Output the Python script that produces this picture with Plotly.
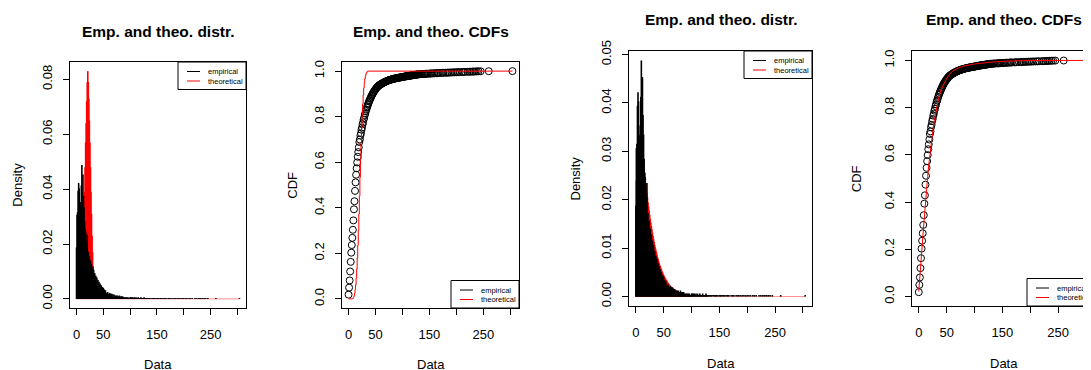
import numpy as np
import plotly.graph_objects as go

W, H = 1091, 370
OFF = 8  # the page body margin shifts the figure by this many pixels
FONT = "Liberation Sans, Arial, Helvetica, sans-serif"

# ---------------- data ----------------
# empirical frequency table: counts for the integer values 0..130
emp_counts = [60, 98, 101, 126, 135, 129, 107, 101, 113, 132,
              156, 113, 145, 120, 107, 91, 82, 79, 66, 66,
              75, 36, 55, 32, 50, 30, 45, 28, 41, 24,
              37, 22, 34, 20, 30, 18, 27, 16, 25, 14,
              22, 13, 20, 12, 18, 11, 16, 10, 14, 9,
              13, 8, 11, 8, 10, 7, 7, 3, 8, 3,
              6, 3, 7, 3, 6, 2, 6, 2, 5, 2,
              5, 2, 4, 2, 4, 2, 4, 1, 3, 1,
              4, 1, 3, 1, 3, 1, 3, 1, 2, 1,
              2, 1, 2, 1, 2, 1, 2, 1, 1, 1,
              2, 2, 1, 2, 1, 2, 1, 1, 2, 1,
              1, 2, 1, 1, 1, 2, 1, 1, 1, 1,
              2, 1, 1, 1, 1, 1, 2, 1, 1, 1, 1]
# sparse tail of the sample (single observations)
tail_values = [132, 134, 135, 137, 140, 142, 143, 145, 147, 150, 152, 153, 156,
               158, 160, 163, 165, 167, 171, 174, 176, 180, 183, 185, 188, 191,
               194, 197, 200, 203, 206, 210, 213, 216, 221, 224, 227, 230, 232,
               235, 238, 241, 245, 260, 304]
tail_counts = [1, 1, 1, 1, 1, 1, 1, 1, 1, 1, 1, 1, 1,
               1, 1, 1, 1, 1, 1, 1, 1, 1, 1, 1, 1, 1,
               1, 1, 1, 1, 1, 1, 1, 1, 1, 1, 1, 1, 1,
               1, 1, 1, 1, 1, 1]

# fit 1 (left pair): theoretical probabilities for the values 7..36
pois_x = list(range(7, 37))
pois_p = [0.001, 0.002, 0.004, 0.007, 0.011, 0.015, 0.022, 0.030, 0.039, 0.048,
          0.057, 0.064, 0.072, 0.079, 0.083, 0.079, 0.073, 0.065, 0.057, 0.048,
          0.039, 0.031, 0.023, 0.017, 0.012, 0.009, 0.006, 0.004, 0.002, 0.001]

# fit 2 (right pair): theoretical probabilities for the values 0..100
nb_p = [0.0180, 0.0240, 0.0280, 0.0305, 0.0318, 0.0325, 0.0310, 0.0305, 0.0310, 0.0310,
        0.0305, 0.0300, 0.0293, 0.0285, 0.0275, 0.0265, 0.0255, 0.0244, 0.0234, 0.0224,
        0.0214, 0.0205, 0.0195, 0.0186, 0.0178, 0.0169, 0.0161, 0.0153, 0.0146, 0.0139,
        0.0132, 0.0125, 0.0119, 0.0113, 0.0107, 0.0102, 0.0097, 0.0092, 0.0087, 0.0082,
        0.0078, 0.0074, 0.0070, 0.0066, 0.0063, 0.0059, 0.0056, 0.0053, 0.0050, 0.0047,
        0.0045, 0.0042, 0.0040, 0.0038, 0.0036, 0.0034, 0.0032, 0.0030, 0.0028, 0.0027,
        0.0025, 0.0024, 0.0022, 0.0021, 0.0020, 0.0019, 0.0018, 0.0017, 0.0016, 0.0015,
        0.0014, 0.0013, 0.0013, 0.0012, 0.0011, 0.0011, 0.0010, 0.0009, 0.0009, 0.0008,
        0.0008, 0.0007, 0.0007, 0.0007, 0.0006, 0.0006, 0.0005, 0.0005, 0.0005, 0.0004,
        0.0004, 0.0004, 0.0004, 0.0003, 0.0003, 0.0003, 0.0003, 0.0003, 0.0002, 0.0002,
        0.0002]
# fit 2 theoretical CDF
nb_cdf_x = [0, 1, 2, 3, 4, 5, 6, 7, 8, 9, 10, 12, 14, 16, 18, 20, 22, 25, 28, 31,
            35, 40, 45, 50, 55, 60, 70, 80, 100, 130, 160, 200, 304]
nb_cdf_y = [0.021, 0.048, 0.078, 0.110, 0.144, 0.177, 0.211, 0.244, 0.277, 0.310,
            0.341, 0.401, 0.457, 0.509, 0.558, 0.604, 0.645, 0.699, 0.746, 0.788,
            0.834, 0.878, 0.903, 0.923, 0.940, 0.954, 0.967, 0.976, 0.985, 0.993,
            0.997, 1.0, 1.0]

titles = ["Emp. and theo. distr.", "Emp. and theo. CDFs",
          "Emp. and theo. distr.", "Emp. and theo. CDFs"]
ylabels = ["Density", "CDF", "Density", "CDF"]
xlabel = "Data"
legend_labels = ["empirical", "theoretical"]
x_ticks = [0, 50, 100, 150, 200, 250, 300]
x_ticktext = ["0", "50", "", "150", "", "250", ""]
dens1_ticks = [0.00, 0.02, 0.04, 0.06, 0.08]
dens1_text = ["0.00", "0.02", "0.04", "0.06", "0.08"]
dens2_ticks = [0.00, 0.01, 0.02, 0.03, 0.04, 0.05]
dens2_text = ["0.00", "0.01", "0.02", "0.03", "0.04", "0.05"]
cdf_ticks = [0.0, 0.2, 0.4, 0.6, 0.8, 1.0]
cdf_text = ["0.0", "0.2", "0.4", "0.6", "0.8", "1.0"]

# ---------------- derived ----------------
emp_x = np.concatenate([np.arange(len(emp_counts)), np.array(tail_values)])
emp_n = np.concatenate([np.array(emp_counts), np.array(tail_counts)])
N = emp_n.sum()
emp_dens = emp_n / N
emp_cdf = np.cumsum(emp_n) / N
xmin, xmax = 0, int(emp_x.max())

pois_cdf_x = [xmin] + pois_x + [xmax]
pois_cdf_y = [0.0] + list(np.cumsum(pois_p)) + [1.0]
nb_x = list(range(len(nb_p)))


def stems(xs, ys):
    X, Y = [], []
    for a, b in zip(xs, ys):
        X += [a, a, None]
        Y += [0, b, None]
    return X, Y


# panel boxes in page pixels (left, top, right, bottom)
boxes = [(70, 62, 246, 308), (342, 62, 519, 308), (629, 51, 812, 306), (912, 51, 1095, 306)]


def xp(px):
    return (px - OFF) / W


def yp(py):
    return 1 - (py - OFF) / H


STEM_W = 1.6
fig = go.Figure()

# panel 1
sx, sy = stems(pois_x, pois_p)
fig.add_trace(go.Scatter(x=[xmin, xmax], y=[0, 0], mode="lines",
                         line=dict(color="rgba(255,0,0,0.45)", width=1), xaxis="x", yaxis="y"))
fig.add_trace(go.Scatter(x=sx, y=sy, mode="lines", line=dict(color="red", width=STEM_W),
                         xaxis="x", yaxis="y"))
sx, sy = stems(emp_x, emp_dens)
fig.add_trace(go.Scatter(x=sx, y=sy, mode="lines", line=dict(color="black", width=STEM_W),
                         xaxis="x", yaxis="y"))

# panel 2
fig.add_trace(go.Scatter(x=emp_x, y=emp_cdf, mode="markers",
                         marker=dict(symbol="circle-open", size=7, color="black",
                                     line=dict(width=1, color="black")),
                         xaxis="x2", yaxis="y2"))
fig.add_trace(go.Scatter(x=pois_cdf_x, y=pois_cdf_y, mode="lines", line_shape="hv",
                         line=dict(color="red", width=1), xaxis="x2", yaxis="y2"))

# panel 3
fig.add_trace(go.Scatter(x=[xmin, xmax], y=[0, 0], mode="lines",
                         line=dict(color="rgba(255,0,0,0.45)", width=1), xaxis="x3", yaxis="y3"))
sx, sy = stems(nb_x, nb_p)
fig.add_trace(go.Scatter(x=sx, y=sy, mode="lines", line=dict(color="red", width=STEM_W),
                         xaxis="x3", yaxis="y3"))
sx, sy = stems(emp_x, emp_dens)
fig.add_trace(go.Scatter(x=sx, y=sy, mode="lines", line=dict(color="black", width=STEM_W),
                         xaxis="x3", yaxis="y3"))

# panel 4
fig.add_trace(go.Scatter(x=emp_x, y=emp_cdf, mode="markers",
                         marker=dict(symbol="circle-open", size=7, color="black",
                                     line=dict(width=1, color="black")),
                         xaxis="x4", yaxis="y4"))
fig.add_trace(go.Scatter(x=nb_cdf_x, y=nb_cdf_y, mode="lines",
                         line=dict(color="red", width=1), xaxis="x4", yaxis="y4"))

span = xmax - xmin
xr_full = [xmin - 0.04 * span, xmax + 0.04 * span]
M1 = max(emp_dens.max(), max(pois_p))
M3 = max(emp_dens.max(), max(nb_p))
yranges = [[-0.04 * M1, 1.04 * M1], [-0.04, 1.04], [-0.04 * M3, 1.04 * M3], [-0.04, 1.04]]
yticks = [(dens1_ticks, dens1_text), (cdf_ticks, cdf_text), (dens2_ticks, dens2_text), (cdf_ticks, cdf_text)]

tickfont = dict(family=FONT, size=13, color="black")
layout = dict(width=W, height=H, margin=dict(l=0, r=0, t=0, b=0, autoexpand=False),
              paper_bgcolor="white", plot_bgcolor="white", showlegend=False,
              font=dict(family=FONT, color="black"))
shapes, annotations = [], []
for i, (l, t, r, b) in enumerate(boxes):
    sfx = "" if i == 0 else str(i + 1)
    layout["xaxis" + sfx] = dict(domain=[xp(l), xp(r)], range=xr_full, anchor="y" + sfx,
                                 tickvals=x_ticks, ticktext=x_ticktext, ticks="outside",
                                 ticklen=6, tickwidth=1, tickcolor="black",
                                 showline=True, linecolor="black", linewidth=1, mirror=True,
                                 showgrid=False, zeroline=False, tickfont=tickfont,
                                 ticklabelstandoff=8, automargin=False, fixedrange=True)
    tv, tt = yticks[i]
    layout["yaxis" + sfx] = dict(domain=[yp(b), yp(t)], range=yranges[i], anchor="x" + sfx,
                                 tickvals=tv, ticktext=tt, ticks="outside", tickangle=-90,
                                 ticklen=6, tickwidth=1, tickcolor="black",
                                 showline=True, linecolor="black", linewidth=1,
                                 mirror=True, showgrid=False, zeroline=False,
                                 tickfont=tickfont, ticklabelstandoff=6, automargin=False,
                                 fixedrange=True)
    cx = (l + r) / 2
    ty = 31.3 if t > 55 else 19.7
    annotations.append(dict(x=xp(cx), y=yp(ty), xref="paper", yref="paper", text=titles[i],
                            showarrow=False, xanchor="center", yanchor="middle",
                            font=dict(family=FONT, size=15.5, color="black", weight="bold")))
    annotations.append(dict(x=xp(cx), y=yp(364 if t > 55 else 363), xref="paper", yref="paper",
                            text=xlabel, showarrow=False, xanchor="center", yanchor="middle",
                            font=dict(family=FONT, size=13, color="black")))
    ylx = [16.7, 291.7, 575, 856.7][i]
    annotations.append(dict(x=xp(ylx), y=yp((t + b) / 2), xref="paper", yref="paper",
                            text=ylabels[i], showarrow=False, textangle=-90,
                            xanchor="center", yanchor="middle",
                            font=dict(family=FONT, size=13, color="black")))
    # legend box: top-right for densities, bottom-right for CDFs
    lw, lh = 68, 27.5
    lx0 = r - lw
    ly0 = t if i in (0, 2) else b - lh
    shapes.append(dict(type="rect", xref="paper", yref="paper", x0=xp(lx0), x1=xp(r),
                       y0=yp(ly0), y1=yp(ly0 + lh), line=dict(color="black", width=1),
                       fillcolor="white", layer="above"))
    for k, (lab, col) in enumerate(zip(legend_labels, ["black", "red"])):
        yy = ly0 + 9.5 + 9.5 * k
        shapes.append(dict(type="line", xref="paper", yref="paper", x0=xp(lx0 + 9),
                           x1=xp(lx0 + 22), y0=yp(yy), y1=yp(yy),
                           line=dict(color=col, width=1), layer="above"))
        annotations.append(dict(x=xp(lx0 + 28), y=yp(yy), xref="paper", yref="paper",
                                text=lab, showarrow=False, xanchor="left", yanchor="middle",
                                font=dict(family=FONT, size=7.5, color="black")))

layout["shapes"] = shapes
layout["annotations"] = annotations
fig.update_layout(**layout)
fig.write_html("out.html")
